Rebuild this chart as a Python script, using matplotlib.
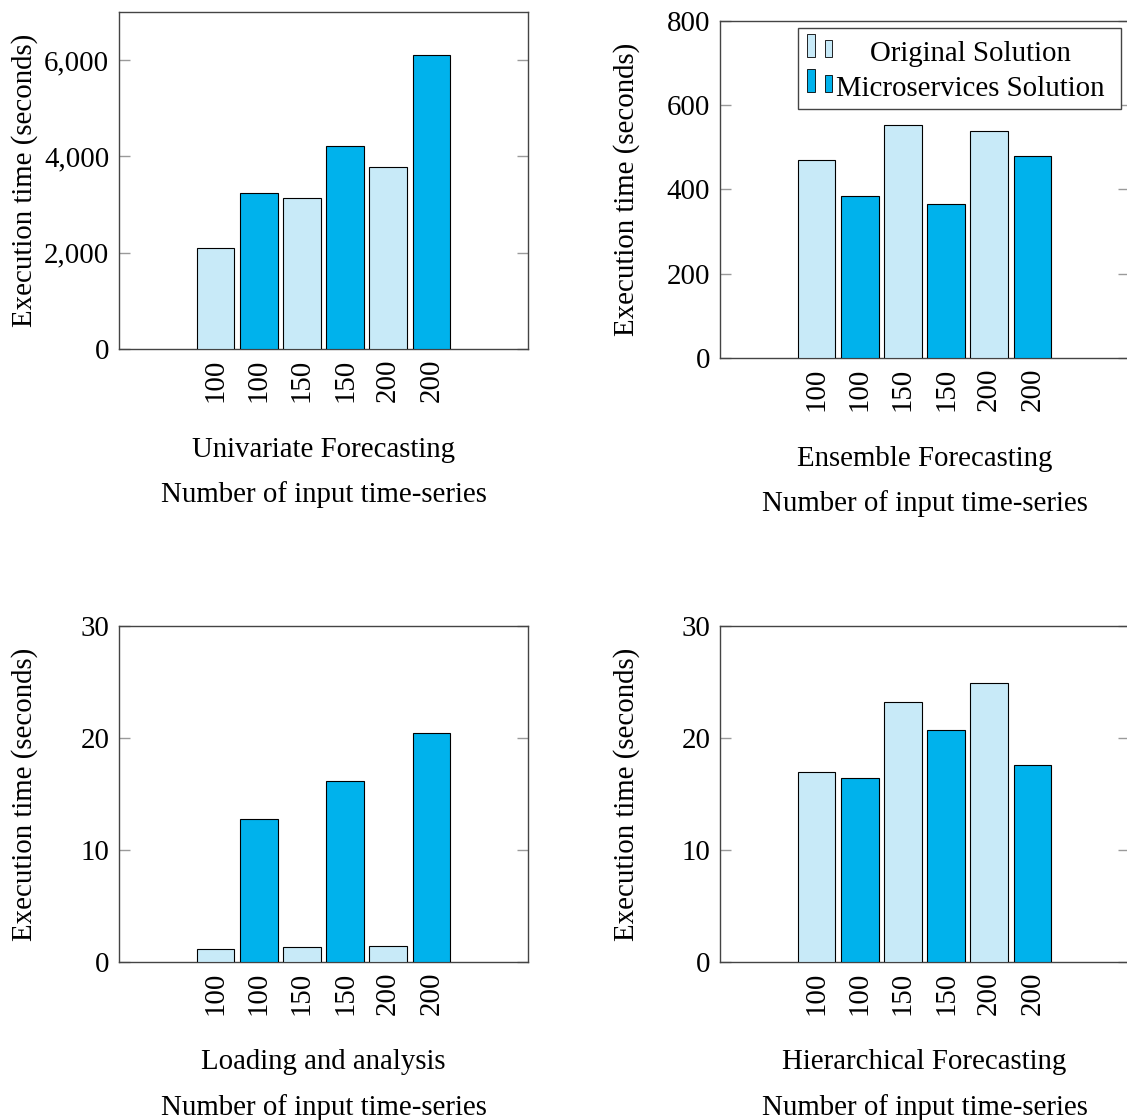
import matplotlib
matplotlib.use("Agg")
import matplotlib.pyplot as plt
from matplotlib.patches import Rectangle
from matplotlib.ticker import FuncFormatter

plt.rcParams["font.family"] = ["Liberation Serif", "DejaVu Serif"]
plt.rcParams["font.size"] = 20.8

# Number of input time-series per run
sizes = ["100", "150", "200"]
series_names = ["Original Solution", "Microservices Solution"]

# Execution time in seconds
univariate_original = [2095, 3130, 3790]
univariate_micro = [3250, 4210, 6110]
ensemble_original = [471, 552, 538]
ensemble_micro = [385, 366, 479]
loading_original = [1.2, 1.37, 1.43]
loading_micro = [12.8, 16.2, 20.4]
hierarchical_original = [17.0, 23.25, 24.95]
hierarchical_micro = [16.4, 20.7, 17.55]

panel_titles = ["Univariate Forecasting", "Ensemble Forecasting",
                "Loading and analysis", "Hierarchical Forecasting"]
y_max = [7000, 800, 30, 30]
y_ticks = [[0, 2000, 4000, 6000], [0, 200, 400, 600, 800],
           [0, 10, 20, 30], [0, 10, 20, 30]]

LIGHT = "#C8EAF8"
DARK = "#00B2EC"
SPINE = "#444444"
TICK = "#9a9a9a"

panels = [
    (univariate_original, univariate_micro),
    (ensemble_original, ensemble_micro),
    (loading_original, loading_micro),
    (hierarchical_original, hierarchical_micro),
]

fig = plt.figure(figsize=(11.27, 11.20), dpi=100)
boxes = [
    (0.1056, 0.6884, 0.3629, 0.3009),
    (0.6389, 0.6804, 0.3629, 0.3009),
    (0.1056, 0.1411, 0.3629, 0.3000),
    (0.6389, 0.1411, 0.3629, 0.3000),
]

# Original bars sit at odd slots, microservices bars at even slots
x_orig = [2 * i + 1 for i in range(len(sizes))]
x_micro = [2 * i + 2 for i in range(len(sizes))]
tick_pos = sorted(x_orig + x_micro)
tick_lab = [s for s in sizes for _ in range(2)]

axes = []
for k, ((orig, micro), box) in enumerate(zip(panels, boxes)):
    ax = fig.add_axes(box)
    axes.append(ax)
    ax.bar(x_orig, orig, width=0.87, color=LIGHT, edgecolor="black",
           linewidth=0.8, zorder=3)
    ax.bar(x_micro, micro, width=0.87, color=DARK, edgecolor="black",
           linewidth=0.8, zorder=3)
    ax.set_xlim(-1.24, 8.24)
    ax.set_ylim(0, y_max[k])
    ax.set_yticks(y_ticks[k])
    ax.yaxis.set_major_formatter(FuncFormatter(lambda v, p: f"{v:,.0f}"))
    ax.set_xticks(tick_pos)
    ax.set_xticklabels(tick_lab, rotation=90)
    ax.tick_params(axis="x", length=0, pad=7)
    ax.tick_params(axis="y", direction="in", left=True, right=True,
                   length=8, width=1.0, color=TICK, pad=7)
    for sp in ax.spines.values():
        sp.set_color(SPINE)
        sp.set_linewidth(1.0)
    ax.set_ylabel("Execution time (seconds)")
    ax.yaxis.set_label_coords(-0.2298, 0.5)
    ax.yaxis.label.set_va("center")
    ax.set_xlabel("Number of input time-series")
    ax.xaxis.set_label_coords(0.5, -0.432)
    ax.xaxis.label.set_va("center")
    ax.text(0.5, -0.299, panel_titles[k], transform=ax.transAxes,
            ha="center", va="center")

# Legend in the ensemble panel: two small bars per entry and centred text
lax = axes[1]
lax.add_patch(Rectangle((0.1907, 0.7389), 0.7897, 0.2403, transform=lax.transAxes,
                        facecolor="white", edgecolor=SPINE, linewidth=1.0,
                        zorder=5, clip_on=False))
for color, name, base in [(LIGHT, series_names[0], 0.894),
                          (DARK, series_names[1], 0.7902)]:
    lax.add_patch(Rectangle((0.2134, base), 0.0188, 0.066, transform=lax.transAxes,
                            facecolor=color, edgecolor="black", linewidth=0.6,
                            zorder=6, clip_on=False))
    lax.add_patch(Rectangle((0.2567, base), 0.0164, 0.048, transform=lax.transAxes,
                            facecolor=color, edgecolor="black", linewidth=0.6,
                            zorder=6, clip_on=False))
    lax.text(0.6112, base - 0.012, name, transform=lax.transAxes,
             ha="center", va="baseline", zorder=7)

fig.savefig("out.png", dpi=100)
